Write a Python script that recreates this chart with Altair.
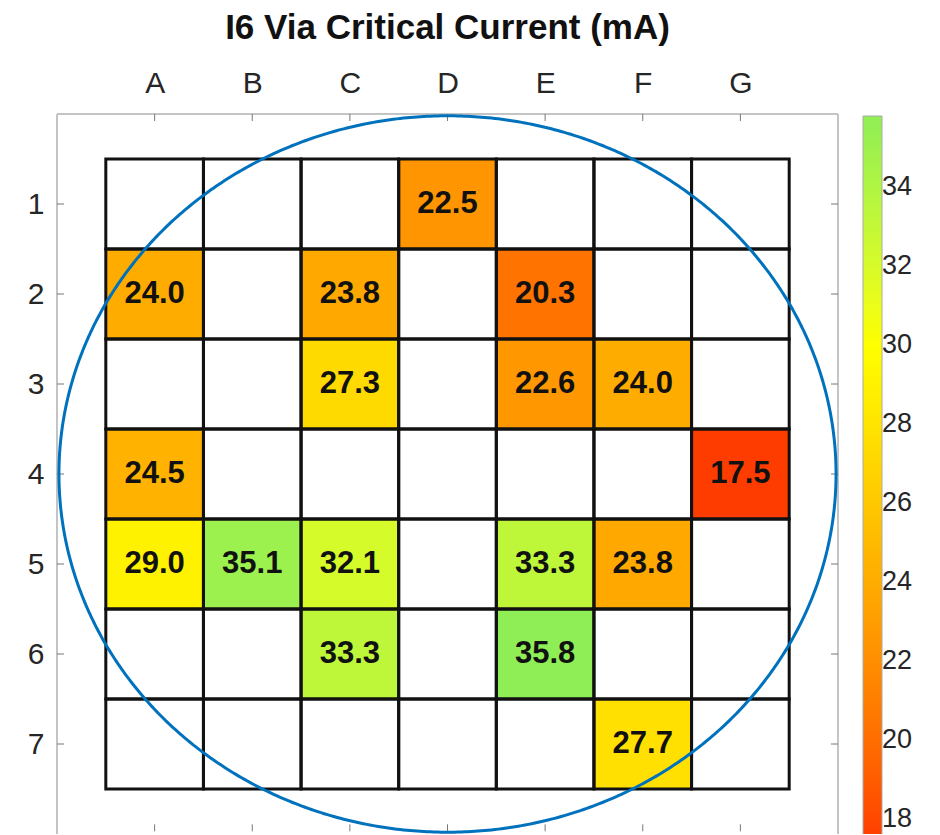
import altair as alt
import numpy as np
import pandas as pd

# ---------------- data ----------------
col_labels = ["A", "B", "C", "D", "E", "F", "G"]
row_labels = [1, 2, 3, 4, 5, 6, 7]

cell_col = ["D", "A", "C", "E", "C", "E", "F", "A", "G", "A", "B", "C", "E", "F", "C", "E", "F"]
cell_row = [1, 2, 2, 2, 3, 3, 3, 4, 4, 5, 5, 5, 5, 5, 6, 6, 7]
cell_val = [22.5, 24.0, 23.8, 20.3, 27.3, 22.6, 24.0, 24.5, 17.5, 29.0, 35.1, 32.1, 33.3, 23.8, 33.3, 35.8, 27.7]

colorbar_ticks = [18, 20, 22, 24, 26, 28, 30, 32, 34]
color_domain = [17.5, 30, 35.8]
color_range = ["#ff3c00", "#ffff00", "#8fee55"]

wafer_center = (4, 4)
wafer_radius = 3.98

# ---------------- layout constants ----------------
X_MAX = 8
Y_MAX = 8
W, H = 781, 720
TICK = 7  # px
FONT = "Liberation Sans, Arial, sans-serif"

cells = pd.DataFrame({
    "xi": [col_labels.index(c) + 1 for c in cell_col],
    "row": cell_row,
    "val": cell_val,
})
grid = pd.DataFrame([(i + 1, r) for i in range(len(col_labels)) for r in row_labels],
                    columns=["xi", "row"])

t = np.linspace(0, 2 * np.pi, 721)
circle = pd.DataFrame({
    "i": np.arange(len(t)),
    "cx": wafer_center[0] + wafer_radius * np.cos(t),
    "cy": wafer_center[1] + wafer_radius * np.sin(t),
})

xs = alt.Scale(domain=[0, X_MAX], nice=False, zero=False)
ys = alt.Scale(domain=[0, Y_MAX], nice=False, zero=False, reverse=True)

tx = TICK * X_MAX / W
ty = TICK * Y_MAX / H

# frame lines (top, left, right) and inward ticks
frame = pd.DataFrame([
    {"x": 0, "x2": X_MAX, "y": 0, "y2": 0},
    {"x": 0, "x2": 0, "y": 0, "y2": Y_MAX},
    {"x": X_MAX, "x2": X_MAX, "y": 0, "y2": Y_MAX},
])
ticks = []
for i in range(1, len(col_labels) + 1):
    ticks.append({"x": i, "x2": i, "y": 0, "y2": ty})
    ticks.append({"x": i, "x2": i, "y": Y_MAX - 0.03 - ty, "y2": Y_MAX - 0.03})
for r in row_labels:
    ticks.append({"x": 0, "x2": tx, "y": r, "y2": r})
    ticks.append({"x": X_MAX - tx, "x2": X_MAX, "y": r, "y2": r})
ticks = pd.DataFrame(ticks)

label_expr = "[" + ",".join("'%s'" % c for c in col_labels) + "][datum.value-1]"

x_axis = alt.Axis(orient="top", values=list(range(1, len(col_labels) + 1)), labelExpr=label_expr,
                  ticks=False, domain=False, grid=False, title=None, labelFontSize=30,
                  labelFont=FONT, labelColor="#262626", labelPadding=16, labelAngle=0)
y_axis = alt.Axis(orient="left", values=row_labels, format="d", ticks=False, domain=False,
                  grid=False, title=None, labelFontSize=30, labelFont=FONT,
                  labelColor="#262626", labelPadding=13)

fill = alt.Chart(cells).transform_calculate(
    x0="datum.xi - 0.5", x1="datum.xi + 0.5", y0="datum.row - 0.5", y1="datum.row + 0.5"
).mark_rect().encode(
    x=alt.X("x0:Q", scale=xs, axis=x_axis),
    x2="x1:Q",
    y=alt.Y("y0:Q", scale=ys, axis=y_axis),
    y2="y1:Q",
    color=alt.Color("val:Q",
                    scale=alt.Scale(domain=color_domain, range=color_range, zero=False, nice=False),
                    legend=alt.Legend(orient="none", legendX=806, legendY=2, direction="vertical",
                                      gradientLength=723, gradientThickness=19, title=None,
                                      values=colorbar_ticks, labelFontSize=27, labelFont=FONT,
                                      labelColor="#262626", labelOffset=0,
                                      gradientStrokeColor="#aaaaaa", gradientStrokeWidth=1,
                                      labelOverlap=False)),
)

gridlines = alt.Chart(grid).transform_calculate(
    x0="datum.xi - 0.5", x1="datum.xi + 0.5", y0="datum.row - 0.5", y1="datum.row + 0.5"
).mark_rect(fillOpacity=0, stroke="#111111", strokeWidth=3).encode(
    x=alt.X("x0:Q", scale=xs), x2="x1:Q", y=alt.Y("y0:Q", scale=ys), y2="y1:Q"
)

wafer = alt.Chart(circle).mark_line(color="#0072bd", strokeWidth=3, clip=False).encode(
    x=alt.X("cx:Q", scale=xs), y=alt.Y("cy:Q", scale=ys), order="i:Q"
)

labels = alt.Chart(cells).mark_text(font=FONT, fontWeight="bold", fontSize=31,
                                    color="#111111").encode(
    x=alt.X("xi:Q", scale=xs), y=alt.Y("row:Q", scale=ys),
    text=alt.Text("val:Q", format=".1f"),
)

frame_l = alt.Chart(frame).mark_rule(color="#c4c4c4", strokeWidth=2).encode(
    x=alt.X("x:Q", scale=xs), x2="x2:Q", y=alt.Y("y:Q", scale=ys), y2="y2:Q"
)
ticks_l = alt.Chart(ticks).mark_rule(color="#777777", strokeWidth=1).encode(
    x=alt.X("x:Q", scale=xs), x2="x2:Q", y=alt.Y("y:Q", scale=ys), y2="y2:Q"
)

chart = alt.layer(fill, gridlines, frame_l, ticks_l, wafer, labels).properties(
    width=W, height=H,
    title=alt.Title("I6 Via Critical Current (mA)", fontSize=35, font=FONT, fontWeight="bold",
                    anchor="middle", offset=22, color="#111111"),
    autosize=alt.AutoSizeParams(type="none"),
    padding={"left": 49, "top": 106, "right": 94, "bottom": 0},
).configure_view(stroke=None)

chart.save("out.html", embed_options={"renderer": "svg", "actions": False})
